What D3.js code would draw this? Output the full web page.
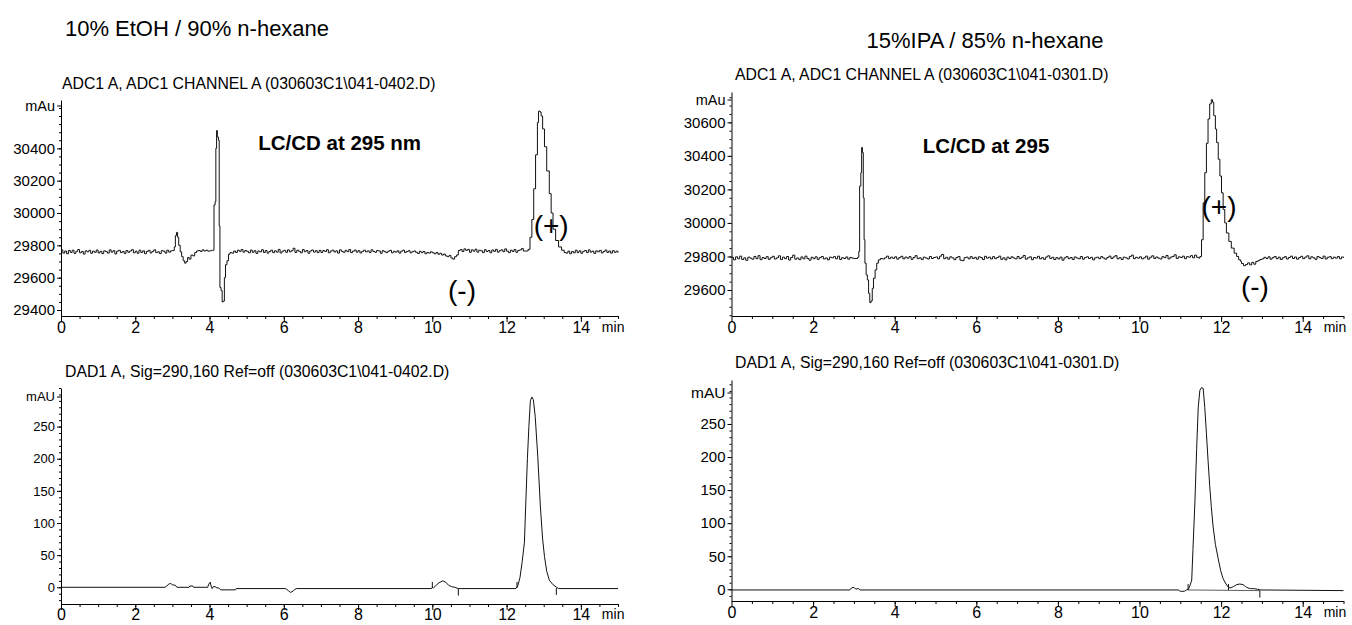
<!DOCTYPE html>
<html>
<head>
<meta charset="utf-8">
<script src="https://cdn.jsdelivr.net/npm/d3@7"></script>
<style>
  body { margin: 0; background: #fff; }
  svg { display: block; font-family: "Liberation Sans", Arial, sans-serif; }
</style>
</head>
<body>
<div id="chart"></div>
<script>
// ---- data (time in min, signal in mAu / mAU) ----

// x axis ticks (same for every panel)
var timeTicks = [0, 2, 4, 6, 8, 10, 12, 14];

// ADC1 (CD) trace, 10% EtOH : baseline level + noise every 0.05 min from 0 to 15
var adcEtohBase = 29760;
var adcEtohNoise = [
  12, -8, 5, -12, 8, -4, 10, -10, 3, 14, -6, 2, -14, 6, 0, 9, -9, 4, -3, 11,
  -7, 3, -11, 6, 1, -8, 12, -2, 7, -13, 4, 9, -5, 2, -10, 8, -3, 5, 13, -6,
  4, -9, 10, -4, 6, -12, 2, 9, -7, 3, 12, -5, 0, -11, 7, 4, -8, 10, -2, 6,
  5, -3, 8, -6, 2, 10, -4, 3, -9, 6, 1, -7, 9, -2, 8, 2, 12, 5, 10, 4,
  6, 9, -2, 4, -5, 7, 1, -6, 3, 8, 2, -4, -8, 5, -4, 10, 3, 14, -2, 8,
  3, -6, 11, -3, 7, -10, 5, 0, 13, -4, 8, -8, 2, 10, -5, 6, -2, 15, -7, 4,
  9, -3, 12, 0, 7, 22, -4, 10, 3, -6, 14, 1, 8, -9, 5, 11, -2, 7, -5, 9,
  -4, 8, 2, 13, -6, 5, 10, -1, 6, -8, 12, 3, -3, 9, 1, 14, -5, 4, 11, -2,
  7, -7, 3, 10, 0, 6, -4, 12, 2, -3, 8, 5, -9, 7, 1, -5, 4, 9, -6, 3,
  -2, 6, -8, 4, 10, -4, 2, 7, -6, 1, 5, -3, -10, 3, -5, 2, -12, -4, -8, 0,
  -6, -12, -4, -15, -9, -20, -14, -25, -30, -22, -38, -45, -30, -20, 8, 14, 2, 18, 9, 15,
  -3, 12, 4, 16, -2, 10, 6, -5, 13, 2, 8, -6, 11, 3, 15, -2, 7, 12, 1, 18,
  4, -5, 10, 2, 14, -3, 8, 12, 20, 5, 10, 6, 12, 3, 9, 5, 11, 2, 8, 4,
  7, 3, 9, -2, 6, 1, 8, -4, 5, 2, 10, -3, -8, 4, -12, 2, -6, 10, -4, 6,
  -9, 3, 8, -5, 12, -2, 4, -10, 6, 0, 9, -7, 2, 11, -4, 5, -8, 7, -3, 4,
  -6
];
var adcEtohBump = [[3.00, 29768], [3.05, 29790], [3.08, 29860], [3.11, 29880], [3.14, 29850], [3.17, 29800],
  [3.21, 29760], [3.25, 29730], [3.29, 29705], [3.33, 29690], [3.37, 29700], [3.41, 29725], [3.45, 29715],
  [3.50, 29740], [3.55, 29735], [3.60, 29755], [3.65, 29765]];
var adcEtohSpike = [[4.08, 29768], [4.11, 29772], [4.12, 30050], [4.15, 30070], [4.17, 30400], [4.19, 30510],
  [4.21, 30470], [4.24, 30450], [4.26, 29920], [4.28, 29540], [4.31, 29520], [4.34, 29450], [4.37, 29455],
  [4.40, 29600], [4.43, 29680], [4.47, 29705], [4.51, 29745], [4.55, 29755]];
var adcEtohPeak = [[12.50, 29765], [12.58, 29775], [12.63, 29850], [12.68, 29960], [12.73, 30150], [12.78, 30360],
  [12.83, 30560], [12.86, 30630], [12.90, 30625], [12.93, 30600], [12.97, 30520], [13.02, 30410], [13.08, 30260],
  [13.15, 30120], [13.20, 30000], [13.25, 29900], [13.32, 29830], [13.40, 29790], [13.48, 29770], [13.55, 29755]];
var adcEtohYTicks = [29400, 29600, 29800, 30000, 30200, 30400];

// ADC1 (CD) trace, 15% IPA
var adcIpaBase = 29790;
var adcIpaNoise = [
  5, -10, 8, -4, 12, -8, 2, -13, 6, 0, -6, 10, -3, 15, -9, 4, -2, 9, -7, 3,
  11, -5, 2, 14, -8, 6, -3, 10, -11, 4, 18, -6, 1, -9, 7, -4, 12, -2, -12, 5,
  -3, 8, -7, 3, 10, -5, 1, -10, 6, 2, 9, -4, 12, -8, 3, -2, 7, -6, 4, 0,
  -2, 6, -4, 9, -5, 3, 10, -2, 5, -8, 4, 7, -3, 8, -5, 2, 12, -3, 6, -1,
  8, -6, 3, 11, -4, 6, 0, 9, -7, 4, 15, -3, 2, -8, 6, 1, -5, 10, -2, 4,
  7, -4, 12, 22, -3, 5, -6, 8, 2, -9, 4, 10, -12, -15, 3, 6, -4, 9, -2, 5,
  -6, 8, 3, -8, 11, 0, 6, -5, 9, -3, 4, 12, -7, 2, -10, 6, -2, 8, 1, -4,
  10, -3, 5, 16, -6, 2, 8, -9, 4, 0, 11, -4, 3, -7, 7, 14, -2, 5, -8, 3,
  -5, 6, -12, 2, 9, -3, 4, -8, 7, 1, -4, 10, -6, 3, 8, -2, 5, -10, 2, 6,
  -3, 9, 1, -6, 4, 12, -2, 7, 15, -4, 3, -8, 6, 2, -5, 10, 18, -3, 5, 0,
  8, -4, 2, 12, -6, 5, 14, -2, 7, 0, -5, 9, 3, 16, -4, 6, 10, 20, -2, 8,
  4, 12, -3, 9, 6, 15, 2, 18, 5, 0, 3, 8, 1, 6, 2, 9, 4, 7, 3, 5,
  4, 2, 6, 1, 5, 3, 7, 0, 4, 2, -32, -45, -38, -28, -40, -25, -36, -20, -15, -8,
  -4, 5, -2, 8, -6, 3, 10, -3, 6, -8, 2, 9, -5, 4, 12, -2, 7, -6, 3, 11,
  -3, 6, 14, -4, 8, 2, -7, 10, 3, -2, 12, -5, 5, 9, -3, 6, 0, 10, -4, 7,
  2
];
var adcIpaSpike = [[3.05, 29788], [3.09, 29795], [3.12, 29830], [3.14, 30220], [3.17, 30300], [3.19, 30450],
  [3.21, 30420], [3.23, 30150], [3.25, 29900], [3.27, 29760], [3.30, 29690], [3.33, 29660], [3.36, 29580],
  [3.39, 29525], [3.42, 29535], [3.45, 29610], [3.48, 29670], [3.52, 29720], [3.56, 29760], [3.60, 29780],
  [3.65, 29788]];
var adcIpaPeak = [[11.45, 29790], [11.48, 29800], [11.52, 29900], [11.56, 30120], [11.60, 30300], [11.64, 30475],
  [11.68, 30620], [11.72, 30710], [11.76, 30735], [11.79, 30720], [11.82, 30640], [11.86, 30560], [11.89, 30480],
  [11.93, 30380], [11.97, 30280], [12.01, 30180], [12.05, 30080], [12.09, 30000], [12.13, 29940], [12.19, 29890],
  [12.25, 29850], [12.32, 29820], [12.38, 29800], [12.43, 29780], [12.48, 29770]];
var adcIpaYTicks = [29600, 29800, 30000, 30200, 30400, 30600];

// DAD1 (UV 290 nm) traces
var dadEtoh = [[0, 0], [2.80, 0], [2.85, 2], [2.90, 5], [2.95, 6], [3.00, 4], [3.08, 3], [3.12, 0], [3.45, 0],
  [3.47, 2], [3.55, 2], [3.57, 0], [3.95, 0], [3.98, 5], [4.02, 8], [4.04, 2], [4.07, -2], [4.10, 1], [4.15, 1],
  [4.20, -1], [4.25, -1], [4.30, -4], [4.70, -4], [4.72, -2], [6.05, -2], [6.12, -5], [6.18, -8], [6.25, -6],
  [6.30, -3], [6.35, -2], [9.98, -2], [10.00, 0], [10.03, -1], [10.10, 3], [10.18, 7], [10.28, 10], [10.36, 8],
  [10.44, 3], [10.52, 1], [10.60, 0], [10.70, -2], [12.25, -2], [12.30, 2], [12.36, 15], [12.42, 40], [12.48, 70],
  [12.52, 136], [12.56, 200], [12.60, 250], [12.64, 290], [12.68, 296], [12.72, 292], [12.77, 266], [12.84, 203],
  [12.91, 125], [12.97, 75], [13.02, 48], [13.08, 25], [13.15, 11], [13.25, 4], [13.35, 0], [13.40, -2], [15, -2]];
var dadEtohMarks = [[10.00, -1, 1], [10.70, -2, -1], [12.28, -1, 1], [13.34, -1, -1]];

var dadIpa = [[0, -1], [2.90, -1], [2.94, 2], [2.98, 3], [3.02, 2], [3.05, 0], [3.08, 1], [3.12, 1], [3.15, -1],
  [10.95, -1], [11.00, -3], [11.10, -3], [11.15, -1], [11.20, 0], [11.25, 8], [11.28, 14], [11.31, 60],
  [11.36, 135], [11.40, 211], [11.44, 276], [11.48, 301], [11.52, 305], [11.56, 304], [11.60, 275], [11.64, 236],
  [11.68, 195], [11.72, 157], [11.76, 125], [11.80, 97], [11.86, 68], [11.93, 46], [11.99, 28], [12.05, 16],
  [12.12, 8], [12.18, 3], [12.22, 2], [12.30, 4], [12.38, 7], [12.46, 8], [12.54, 7], [12.60, 4], [12.66, 2],
  [12.72, 1], [12.80, 1], [12.90, 0], [12.95, -1], [15, -2]];
var dadIpaBaseline = [[11.19, -1], [12.95, -2]];
var dadIpaMarks = [[11.19, -1, 1], [12.18, -1, 1], [12.95, -2, -1]];

var dadYTicks = [0, 50, 100, 150, 200, 250];

// ---- build CD traces: noise grid with the peak windows replaced by the read peaks ----
function buildTrace(base, noise, peaks) {
  var pts = noise.map(function (n, i) { return [i * 0.05, base + n]; })
    .filter(function (p) {
      return !peaks.some(function (pk) {
        return p[0] >= pk[0][0] - 1e-6 && p[0] <= pk[pk.length - 1][0] + 1e-6;
      });
    });
  peaks.forEach(function (pk) { pts = pts.concat(pk); });
  pts.sort(function (a, b) { return a[0] - b[0]; });
  return pts;
}

var adcEtoh = buildTrace(adcEtohBase, adcEtohNoise, [adcEtohBump, adcEtohSpike, adcEtohPeak]);
var adcIpa = buildTrace(adcIpaBase, adcIpaNoise, [adcIpaSpike, adcIpaPeak]);

// ---- drawing ----
var svg = d3.select("#chart").append("svg")
  .attr("width", 1352)
  .attr("height", 625);

// titles
svg.append("text")
  .attr("x", 197).attr("y", 36)
  .attr("text-anchor", "middle")
  .attr("font-size", 22)
  .text("10% EtOH / 90% n-hexane");

svg.append("text")
  .attr("x", 985).attr("y", 48)
  .attr("text-anchor", "middle")
  .attr("font-size", 22)
  .text("15%IPA / 85% n-hexane");

function drawPanel(p) {
  var x = d3.scaleLinear().domain([0, 15]).range(p.xr);
  var y = d3.scaleLinear().domain(p.yd).range(p.yr);
  var g = svg.append("g");

  // subtitle
  g.append("text")
    .attr("x", p.sub[0]).attr("y", p.sub[1])
    .attr("font-size", 15.8)
    .text(p.subtitle);

  // x axis, minor then major
  g.append("g")
    .attr("transform", "translate(0," + p.yr[0] + ")")
    .call(d3.axisBottom(x).tickValues(d3.range(0.5, 15.01, 0.5)).tickSize(3).tickSizeOuter(0).tickFormat(""))
    .call(function (a) { a.select(".domain").remove(); });
  var xa = g.append("g")
    .attr("transform", "translate(0," + p.yr[0] + ")")
    .call(d3.axisBottom(x).tickValues(timeTicks).tickSize(6).tickSizeOuter(0)
      .tickPadding(p.xPad).tickFormat(d3.format("d")));
  xa.attr("font-size", 16).attr("font-family", null);

  g.append("text")
    .attr("x", x(14) + 21).attr("y", p.yr[0] + 6 + p.xPad)
    .attr("dy", "0.71em")
    .attr("font-size", 14)
    .text("min");

  // y axis, minor then major
  g.append("g")
    .attr("transform", "translate(" + p.xr[0] + ",0)")
    .call(d3.axisLeft(y).tickValues(p.minor).tickSize(2).tickSizeOuter(0).tickFormat(""))
    .call(function (a) { a.select(".domain").remove(); });
  var ya = g.append("g")
    .attr("transform", "translate(" + p.xr[0] + ",0)")
    .call(d3.axisLeft(y).tickValues(p.yTicks).tickSize(4).tickSizeOuter(0)
      .tickPadding(2).tickFormat(d3.format("d")));
  ya.attr("font-size", p.yFont).attr("font-family", null);

  // unit label at axis top
  var uy = p.yr[1] + p.unitOff;
  g.append("line")
    .attr("x1", p.xr[0] - 4).attr("x2", p.xr[0])
    .attr("y1", uy).attr("y2", uy)
    .attr("stroke", "black");
  g.append("text")
    .attr("x", p.xr[0] - 6).attr("y", uy)
    .attr("dy", "0.32em")
    .attr("text-anchor", "end")
    .attr("font-size", p.unitFont)
    .text(p.unit);

  var line = d3.line()
    .x(function (d) { return x(d[0]); })
    .y(function (d) { return y(d[1]); })
    .curve(p.step ? d3.curveStepAfter : d3.curveLinear);

  if (p.base) {
    g.append("path").datum(p.base)
      .attr("d", d3.line().x(function (d) { return x(d[0]); }).y(function (d) { return y(d[1]); }))
      .attr("fill", "none")
      .attr("stroke", "#333")
      .attr("stroke-width", 0.8);
  }

  g.append("path").datum(p.data)
    .attr("d", line)
    .attr("fill", "none")
    .attr("stroke", "#111")
    .attr("stroke-width", 1);

  // integration event marks
  (p.marks || []).forEach(function (m) {
    g.append("line")
      .attr("x1", x(m[0])).attr("x2", x(m[0]))
      .attr("y1", y(m[1])).attr("y2", y(m[1]) + (m[2] > 0 ? -6 : 7))
      .attr("stroke", "#111");
  });

  // annotations
  (p.notes || []).forEach(function (n) {
    g.append("text")
      .attr("x", x(n[0])).attr("y", y(n[1]))
      .attr("dy", "0.35em")
      .attr("text-anchor", n[4])
      .attr("font-size", n[3])
      .attr("font-weight", n[5] || "normal")
      .text(n[2]);
  });
}

drawPanel({
  xr: [61, 618], yr: [316, 100], yd: [29363, 30699],
  yTicks: adcEtohYTicks, minor: d3.range(29400, 30700, 50), yFont: 15, xPad: 0,
  unit: "mAu", unitOff: 6, unitFont: 14.5, step: true,
  sub: [62, 89], subtitle: "ADC1 A, ADC1 CHANNEL A (030603C1\\041-0402.D)",
  data: adcEtoh,
  notes: [[5.31, 30433, "LC/CD at 295 nm", 20.5, "start", "bold"],
          [13.2, 29926, "(+)", 28, "middle"],
          [10.8, 29524, "(-)", 28, "middle"]]
});

drawPanel({
  xr: [731.5, 1343.5], yr: [316, 92], yd: [29445, 30781],
  yTicks: adcIpaYTicks, minor: d3.range(29450, 30781, 50), yFont: 15, xPad: 0,
  unit: "mAu", unitOff: 8, unitFont: 14.5, step: true,
  sub: [735, 80], subtitle: "ADC1 A, ADC1 CHANNEL A (030603C1\\041-0301.D)",
  data: adcIpa,
  notes: [[4.69, 30459, "LC/CD at 295", 20.5, "start", "bold"],
          [11.95, 30097, "(+)", 28, "middle"],
          [12.83, 29620, "(-)", 28, "middle"]]
});

drawPanel({
  xr: [61, 618], yr: [604, 388], yd: [-26, 310],
  yTicks: dadYTicks, minor: d3.range(-20, 311, 10), yFont: 13, xPad: -1,
  unit: "mAU", unitOff: 9, unitFont: 13,
  sub: [65, 377], subtitle: "DAD1 A, Sig=290,160 Ref=off (030603C1\\041-0402.D)",
  data: dadEtoh, marks: dadEtohMarks
});

drawPanel({
  xr: [731.5, 1343.5], yr: [601, 380], yd: [-17.7, 316.5],
  yTicks: dadYTicks, minor: d3.range(-10, 316, 10), yFont: 15, xPad: 0,
  unit: "mAU", unitOff: 13, unitFont: 15.5,
  sub: [735, 368], subtitle: "DAD1 A, Sig=290,160 Ref=off (030603C1\\041-0301.D)",
  data: dadIpa, base: dadIpaBaseline, marks: dadIpaMarks
});
</script>
</body>
</html>
